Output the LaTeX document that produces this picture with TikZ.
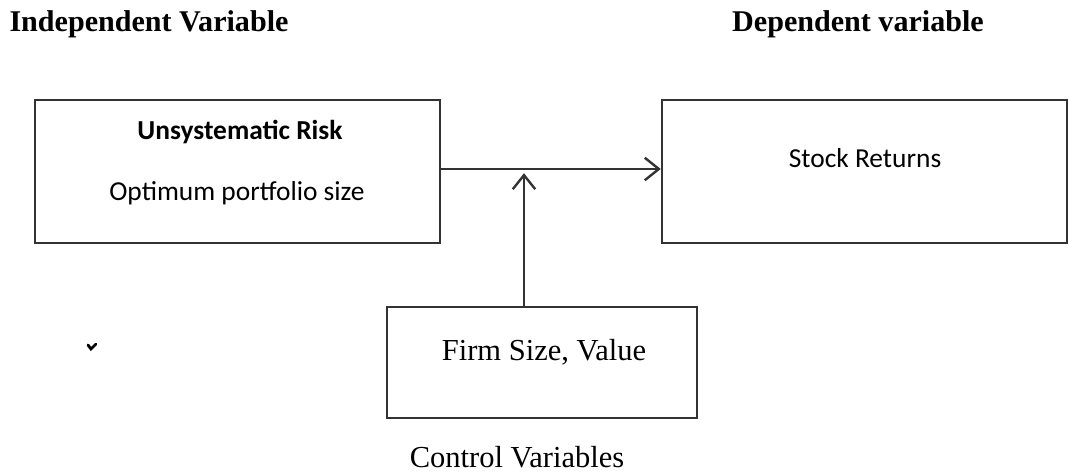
\documentclass[tikz,border=0pt]{standalone}
\usepackage{fontspec}
\setmainfont{Liberation Serif}
\newfontfamily\calfont{Carlito}
\usetikzlibrary{arrows.meta, positioning}

\begin{document}
\begin{tikzpicture}[x=0.025cm, y=-0.025cm,
    varbox/.style={draw=black!80, line width=1.7pt, inner sep=0pt},
    title/.style={font=\fontsize{21.4}{25}\selectfont\bfseries, inner sep=0pt},
    boxtext/.style={font=\calfont\fontsize{19.5}{23}\selectfont, inner sep=0pt},
    plaintext/.style={font=\fontsize{21.7}{26}\selectfont, inner sep=0pt},
    flow/.style={draw=black!80, line width=1.7pt, -{Straight Barb[length=10pt, width=16pt, line width=1.7pt]}}]

\useasboundingbox (0,0) rectangle (1068,472);

% Headings
\node[title] (indtitle) at (149,24) {Independent Variable};
\node[title] (deptitle) at (858,24) {Dependent variable};

% Boxes, set at pixel coordinates
\node[varbox, minimum width=10.125cm, minimum height=3.575cm] (ind) at (237.5,171.5) {};
\node[varbox, minimum width=10.125cm, minimum height=3.575cm] (dep) at (864.5,171.5) {};
\node[varbox, minimum width=7.75cm, minimum height=2.775cm] (ctrl) at (542,362.5) {};

% Texts in the boxes
\node[boxtext, font=\calfont\fontsize{19.5}{23}\selectfont\bfseries] (risk) at (240,132) {Unsystematic Risk};
\node[boxtext] (size) at (237,193) {Optimum portfolio size};
\node[boxtext] (returns) at (865,158) {Stock Returns};
\node[plaintext] (firm) at (544,352) {Firm Size, Value};
\node[plaintext] (ctrllabel) at (517,457) {Control Variables};

% Arrows
\coordinate (foot) at (524,307);
\coordinate (join) at (524,169);
\draw[flow] (ind.east |- join) -- (dep.west |- join);
\draw[flow, shorten >=3pt] (foot) -- (join);

% Stray mark
\draw[line width=2pt, line cap=round] (88,345) -- (91,349) -- (96,344);

\end{tikzpicture}
\end{document}
